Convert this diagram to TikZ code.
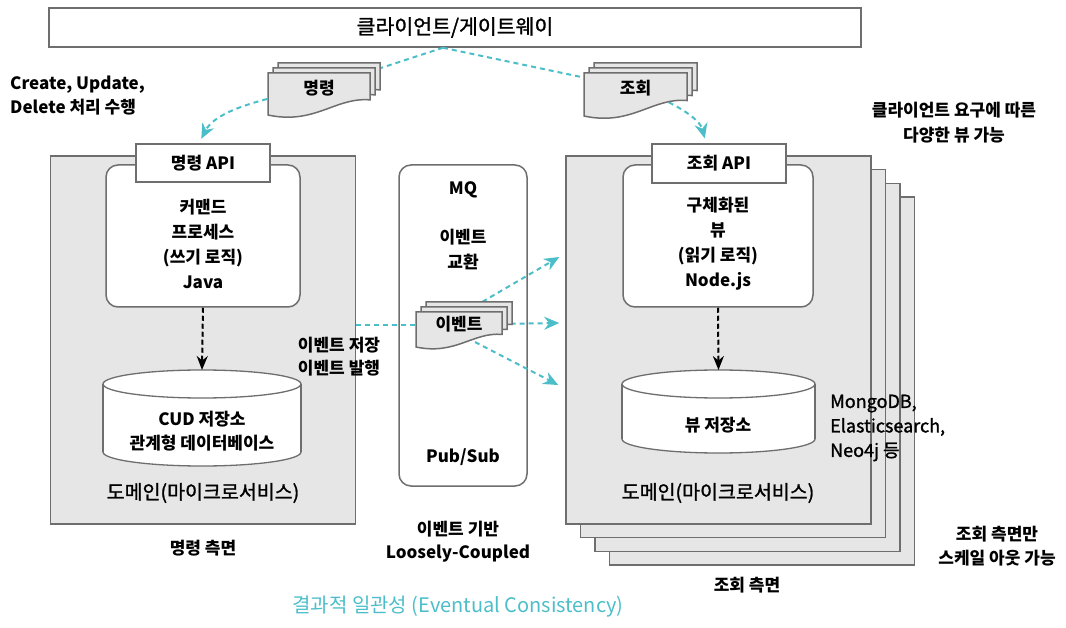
\documentclass[tikz,border=0pt]{standalone}
\usepackage{fontspec}
\setmainfont{Noto Sans CJK KR}
\newfontfamily\medfont{Noto Sans CJK KR}[FakeBold=1.3]
\usetikzlibrary{arrows.meta}

\definecolor{flowcyan}{RGB}{76,190,201}
\definecolor{panelgray}{RGB}{230,230,230}
\definecolor{edgegray}{RGB}{110,110,110}

\pgfdeclarelayer{front}
\pgfsetlayers{main,front}

\tikzset{
  lbl/.style={font=\fontsize{17}{25}\selectfont\bfseries, align=center, inner sep=1pt},
  biglbl/.style={font=\medfont\fontsize{19.5}{24}\selectfont, align=center, inner sep=1pt},
  plainbox/.style={draw=edgegray, line width=1.5pt, fill=white, inner sep=0pt},
  procbox/.style={plainbox, rounded corners=12pt},
  panel/.style={draw=edgegray, line width=1.5pt, fill=panelgray, inner sep=0pt,
    minimum width=305pt, minimum height=368pt},
  storebody/.style={draw=edgegray, line width=1.3pt, fill=white},
  docbody/.style={draw=edgegray, line width=1.5pt, fill=panelgray},
  eventline/.style={flowcyan, line width=2pt, dash pattern=on 5pt off 4pt},
  eventflow/.style={eventline, -{Stealth[length=15pt,width=13pt]}},
  callflow/.style={black, line width=2pt, dash pattern=on 5pt off 3pt,
    -{Stealth[length=14pt,width=11pt]}},
}

% stacked message sheets: name, left, top, width, height, text
\newcommand{\docstack}[6]{%
  \begin{pgfonlayer}{front}
  \foreach \off in {10,5,0}
    \filldraw[docbody] (#2+\off,#3-\off) -- (#2+\off+#4,#3-\off)
      -- (#2+\off+#4,#3-\off+0.64*#5)
      .. controls (#2+\off+0.66*#4,#3-\off+0.57*#5) and (#2+\off+0.46*#4,#3-\off+1.24*#5)
      .. (#2+\off,#3-\off+#5) -- cycle;
  \node[lbl] (#1) at (#2+0.5*#4,#3+0.36*#5) {#6};
  \end{pgfonlayer}}

% database drum: name, centre x, top, width, height
\newcommand{\dbstore}[5]{%
  \filldraw[storebody] (#2,#3+#5-14) ellipse[x radius=#4/2, y radius=14];
  \fill[white] (#2-#4/2,#3+14) rectangle (#2+#4/2,#3+#5-14);
  \draw[storebody] (#2-#4/2,#3+14) -- (#2-#4/2,#3+#5-14)
    (#2+#4/2,#3+14) -- (#2+#4/2,#3+#5-14);
  \filldraw[storebody] (#2,#3+14) ellipse[x radius=#4/2, y radius=14];
  \coordinate (#1) at (#2,#3);}

\begin{document}
\begin{tikzpicture}[x=1pt,y=-1pt]
  \useasboundingbox (0,0) rectangle (1066,628);

  % gateway on top
  \node[plainbox, minimum width=812pt, minimum height=39pt,
    font=\medfont\fontsize{20.5}{24}\selectfont] (gw) at (455,27.5) {클라이언트/게이트웨이};

  % command side
  \node[panel] (cmdpanel) at (203,340) {};
  \node[procbox, minimum width=194pt, minimum height=142pt] (cmdproc) at (203,236) {};
  \node[plainbox, lbl, inner sep=0pt, minimum width=134pt, minimum height=38pt] (cmdapi) at (203,163) {명령 API};
  \node[lbl] (cmdlbl) at (203,244) {커맨드\\프로세스\\(쓰기 로직)\\Java};
  \dbstore{cmddb}{202}{370}{198}{96}
  \node[lbl, font=\fontsize{17}{24}\selectfont\bfseries] (cmddbtxt) at (202,431) {CUD 저장소\\관계형 데이터베이스};
  \node[biglbl] (cmddom) at (203,493) {도메인(마이크로서비스)};
  \node[lbl] (cmdside) at (203,548) {명령 측면};

  % query side, scaled out
  \foreach \k in {3,2,1}
    \node[panel] at (718.5+14.5*\k,340+13.7*\k) {};
  \node[panel] (qrypanel) at (718.5,340) {};
  \node[procbox, minimum width=190pt, minimum height=142pt] (qryproc) at (718,236) {};
  \node[plainbox, lbl, inner sep=0pt, minimum width=134pt, minimum height=39pt] (qryapi) at (719,163.5) {조회 API};
  \node[lbl] (qrylbl) at (718,244) {구체화된\\뷰\\(읽기 로직)\\Node.js};
  \dbstore{qrydb}{718.5}{370}{193}{83}
  \node[lbl] (qrydbtxt) at (718,425) {뷰 저장소};
  \node[biglbl] (qrydom) at (718,493) {도메인(마이크로서비스)};
  \node[lbl] (qryside) at (747,585) {조회 측면};
  \node[anchor=west, align=left, inner sep=0pt,
    font=\medfont\fontsize{18}{24.5}\selectfont] (dbnote) at (830,428) {MongoDB,\\Elasticsearch,\\Neo4j 등};

  % message queue
  \node[procbox, minimum width=128pt, minimum height=321pt] (mq) at (463,325.5) {};
  \node[lbl] (mqname) at (463,190) {MQ};
  \node[lbl] (mqswap) at (463,249.5) {이벤트\\교환};
  \node[lbl] (pubsub) at (463,457) {Pub/Sub};

  % side notes
  \node[lbl, anchor=west, align=left, font=\fontsize{17}{24}\selectfont\bfseries] (cudnote) at (9,96) {Create, Update,\\Delete 처리 수행};
  \node[lbl] (viewnote) at (954,123) {클라이언트 요구에 따른\\다양한 뷰 가능};
  \node[lbl, font=\fontsize{17}{24}\selectfont\bfseries] (scalenote) at (997,546) {조회 측면만\\스케일 아웃 가능};
  \node[lbl, font=\fontsize{17}{23}\selectfont\bfseries] (storepub) at (339,356.5) {이벤트 저장\\이벤트 발행};
  \node[lbl, font=\fontsize{17}{23}\selectfont\bfseries] (loosenote) at (458,541.5) {이벤트 기반\\Loosely-Coupled};
  \node[font=\fontsize{20}{24}\selectfont, text=flowcyan] (consist) at (458,607) {결과적 일관성 (Eventual Consistency)};

  % messages
  \docstack{cmddoc}{268}{73}{102}{42}{명령}
  \docstack{qrydoc}{584}{73}{103}{43}{조회}
  \docstack{evdoc}{416}{312}{86}{35}{이벤트}

  % flows
  \coordinate (fork) at ([xshift=-12pt]gw.south);
  \draw[eventline] (fork) -- (cmddoc);
  \draw[eventline] (fork) -- (qrydoc);
  \draw[eventflow, shorten >=5pt] (cmddoc) .. controls (235,104) and (212,118) .. ([xshift=-4pt]cmdapi.north);
  \draw[eventflow, shorten >=5pt] (qrydoc) .. controls (680,106) and (700,120) .. ([xshift=-13pt]qryapi.north);
  \draw[callflow] (cmdproc.south) -- (cmddb);
  \draw[callflow] (qryproc.south) -- (qrydb);
  \draw[eventline] (cmdpanel.east |- evdoc) -- (evdoc);
  \draw[eventflow] (evdoc.north) -- ([xshift=-6pt,yshift=83pt]qrypanel.west);
  \draw[eventflow] (evdoc) -- ([xshift=-6pt,yshift=17pt]qrypanel.west);
  \draw[eventflow] (evdoc.south) -- ([xshift=-7pt,yshift=-45pt]qrypanel.west);
\end{tikzpicture}
\end{document}
